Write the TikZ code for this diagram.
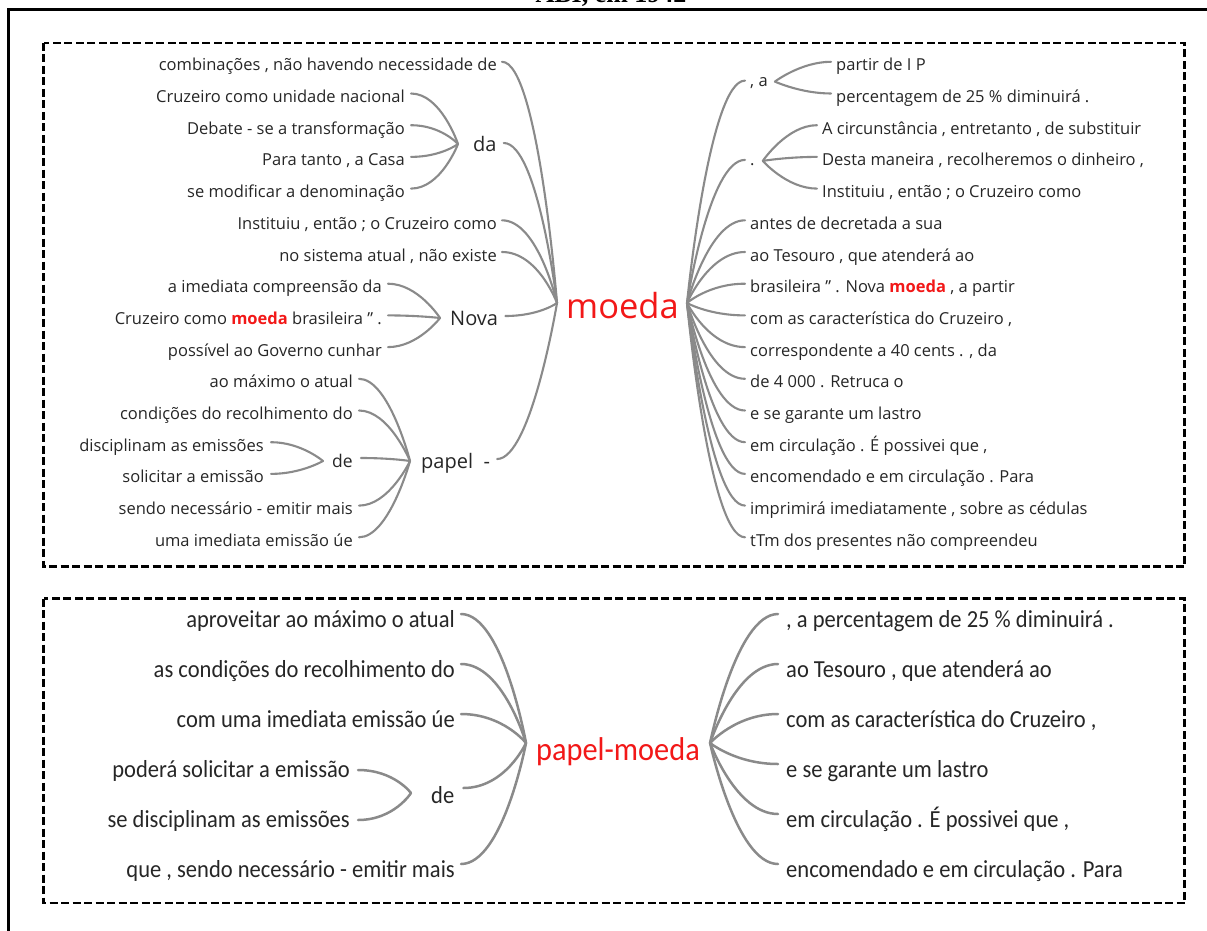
\documentclass[tikz,border=0pt]{standalone}
\usepackage{fontspec}
\setmainfont{Open Sans}
\newfontfamily\calib[FakeStretch=0.92]{Carlito}
\newfontfamily\titlefont{Liberation Serif}
\definecolor{txt}{HTML}{262626}
\definecolor{brc}{HTML}{8A8A8A}
\definecolor{hl}{HTML}{F21818}
% left branch: from text end (#2) to hub (#3); right branch: from hub (#2) to text start (#3)
\newcommand\lcv[4]{\draw[#1] (#2) .. controls +(#4,0pt) and +(0pt,0pt) .. (#3);}
\newcommand\rcv[4]{\draw[#1] (#2) .. controls +(0pt,0pt) and +(-#4,0pt) .. (#3);}
\begin{document}
\begin{tikzpicture}[x=1pt,y=-1pt,
  tl/.style={anchor=base east, inner sep=0pt, text=txt, font=\fontsize{16.5}{16.5}\selectfont},
  tr/.style={anchor=base west, inner sep=0pt, text=txt, font=\fontsize{16.5}{16.5}\selectfont},
  hubw/.style={anchor=base west, inner sep=0pt, text=txt, font=\fontsize{20}{20}\selectfont},
  hubs/.style={anchor=base west, inner sep=0pt, text=txt, font=\fontsize{17.5}{17.5}\selectfont},
  center/.style={anchor=base west, inner sep=0pt, text=hl, font=\fontsize{34.5}{34.5}\selectfont},
  bl/.style={anchor=base east, inner sep=0pt, text=txt, font=\calib\fontsize{24.5}{24.5}\selectfont},
  brr/.style={anchor=base west, inner sep=0pt, text=txt, font=\calib\fontsize{24.5}{24.5}\selectfont},
  bcenter/.style={anchor=base west, inner sep=0pt, text=hl, font=\calib\fontsize{33}{33}\selectfont},
  brt/.style={draw=brc, line width=2.1pt, line cap=round},
  brb/.style={draw=brc, line width=2.5pt, line cap=round},
  panel/.style={draw=black, line width=2.4pt, dash pattern=on 8pt off 3.5pt},
  frame/.style={draw=black, line width=3pt}
]
\useasboundingbox (0,0) rectangle (1207,931);
% title (cut off at the top, as in the source) and outer frame
\node[anchor=base, inner sep=0pt, font=\titlefont\bfseries\fontsize{26}{26}\selectfont] (title) at (611,3) {ABI, em 1942};
\draw[frame] (8.5,931) -- (8.5,9.5) -- (1207,9.5);
% panels
\draw[panel] (43.5,43) rectangle (1184.5,566.5);
\draw[panel] (43.5,598.5) rectangle (1184.5,903);

% ---------------- top panel ----------------
\node[center] (moeda) at (566,318) {moeda};
\coordinate (mL) at ([xshift=-9pt,yshift=15pt]moeda.base west);
\coordinate (mR) at ([xshift=8pt,yshift=15pt]moeda.base east);

% left side
\node[tl] (l1) at (497,70.8) {combinações , não havendo necessidade de};
\node[tl] (l2) at (405,102.5) {Cruzeiro como unidade nacional};
\node[tl] (l3) at (405,134.2) {Debate - se a transformação};
\node[tl] (l4) at (405,165.9) {Para tanto , a Casa};
\node[tl] (l5) at (405,197.6) {se modificar a denominação};
\node[hubw] (da) at (473,152) {da};
\node[tl] (l6) at (497,229.3) {Instituiu , então ; o Cruzeiro como};
\node[tl] (l7) at (497,261.0) {no sistema atual , não existe};
\node[tl] (l8) at (382,292.7) {a imediata compreensão da};
\node[tl] (l9) at (382,324.4) {Cruzeiro como \textbf{\textcolor{hl}{moeda}} brasileira ” .};
\node[tl] (l10) at (382,356.1) {possível ao Governo cunhar};
\node[hubw] (nova) at (450,325) {Nova};
\node[tl] (l11) at (353,387.8) {ao máximo o atual};
\node[tl] (l12) at (353,419.5) {condições do recolhimento do};
\node[tl] (l13) at (264,451.2) {disciplinam as emissões};
\node[tl] (l14) at (264,482.9) {solicitar a emissão};
\node[hubs] (de) at (332,467) {de};
\node[tl] (l15) at (353,514.6) {sendo necessário - emitir mais};
\node[tl] (l16) at (353,546.3) {uma imediata emissão úe};
\node[hubw] (papel) at (421,468) {papel\ \ -};

\coordinate (daH) at ([xshift=-15pt,yshift=8pt]da.base west);
\coordinate (novaH) at ([xshift=-10pt,yshift=7pt]nova.base west);
\coordinate (deH) at ([xshift=-9pt,yshift=6pt]de.base west);
\coordinate (papelH) at ([xshift=-11pt,yshift=7pt]papel.base west);

\foreach \n in {l1,l6,l7}{\lcv{brt}{[xshift=5pt,yshift=9pt]\n.base east}{mL}{36pt}}
\foreach \n in {da,nova,papel}{\lcv{brt}{[xshift=7pt,yshift=9pt]\n.base east}{mL}{34pt}}
\foreach \n in {l2,l3,l4,l5}{\lcv{brt}{[xshift=6pt,yshift=9pt]\n.base east}{daH}{30pt}}
\foreach \n in {l8,l9,l10}{\lcv{brt}{[xshift=6pt,yshift=9pt]\n.base east}{novaH}{30pt}}
\foreach \n in {l11,l12,l15,l16}{\lcv{brt}{[xshift=6pt,yshift=9pt]\n.base east}{papelH}{30pt}}
\lcv{brt}{[xshift=8pt,yshift=9pt]de.base east}{papelH}{30pt}
\foreach \n in {l13,l14}{\lcv{brt}{[xshift=7pt,yshift=9pt]\n.base east}{deH}{30pt}}

% right side
\node[tr] (ca) at (750,86.6) {, a};
\node[tr] (r1) at (836,70.8) {partir de I P};
\node[tr] (r2) at (836,102.5) {percentagem de 25 \% diminuirá .};
\node[tr] (dot) at (750,165.9) {.};
\node[tr] (r3) at (822,134.2) {A circunstância , entretanto , de substituir};
\node[tr] (r4) at (822,165.9) {Desta maneira , recolheremos o dinheiro ,};
\node[tr] (r5) at (822,197.6) {Instituiu , então ; o Cruzeiro como};
\node[tr] (r6) at (750,229.3) {antes de decretada a sua};
\node[tr] (r7) at (750,261.0) {ao Tesouro , que atenderá ao};
\node[tr] (r8) at (750,292.7) {brasileira ” . Nova \textbf{\textcolor{hl}{moeda}} , a partir};
\node[tr] (r9) at (750,324.4) {com as característica do Cruzeiro ,};
\node[tr] (r10) at (750,356.1) {correspondente a 40 cents . , da};
\node[tr] (r11) at (750,387.8) {de 4 000 . Retruca o};
\node[tr] (r12) at (750,419.5) {e se garante um lastro};
\node[tr] (r13) at (750,451.2) {em circulação . É possivei que ,};
\node[tr] (r14) at (750,482.9) {encomendado e em circulação . Para};
\node[tr] (r15) at (750,514.6) {imprimirá imediatamente , sobre as cédulas};
\node[tr] (r16) at (750,546.3) {tTm dos presentes não compreendeu};

\coordinate (caH) at ([xshift=7pt,yshift=5pt]ca.base east);
\coordinate (dotH) at ([xshift=8pt,yshift=5pt]dot.base east);

\rcv{brt}{mR}{[xshift=-5pt,yshift=6pt]ca.base west}{36pt}
\rcv{brt}{mR}{[xshift=-5pt,yshift=6pt]dot.base west}{36pt}
\foreach \n in {r6,r7,r8,r9,r10,r11,r12,r13,r14,r15,r16}{\rcv{brt}{mR}{[xshift=-5pt,yshift=9pt]\n.base west}{36pt}}
\foreach \n in {r1,r2}{\rcv{brt}{caH}{[xshift=-5pt,yshift=9pt]\n.base west}{30pt}}
\foreach \n in {r3,r4,r5}{\rcv{brt}{dotH}{[xshift=-5pt,yshift=9pt]\n.base west}{30pt}}

% ---------------- bottom panel ----------------
\node[bcenter] (pm) at (536,760) {papel-moeda};
\coordinate (pmL) at ([xshift=-10pt,yshift=17pt]pm.base west);
\coordinate (pmR) at ([xshift=10pt,yshift=17pt]pm.base east);

\node[bl] (p1) at (455,627) {aproveitar ao máximo o atual};
\node[bl] (p2) at (455,677) {as condições do recolhimento do};
\node[bl] (p3) at (455,727) {com uma imediata emissão úe};
\node[bl] (p4) at (350,777) {poderá solicitar a emissão};
\node[bl] (p5) at (350,827) {se disciplinam as emissões};
\node[brr] (pde) at (431,803) {de};
\node[bl] (p6) at (455,877) {que , sendo necessário - emitir mais};
\coordinate (pdeH) at ([xshift=-20pt,yshift=10pt]pde.base west);

\foreach \n in {p1,p2,p3,p6}{\lcv{brb}{[xshift=6pt,yshift=13pt]\n.base east}{pmL}{42pt}}
\lcv{brb}{[xshift=9pt,yshift=15pt]pde.base east}{pmL}{42pt}
\foreach \n in {p4,p5}{\lcv{brb}{[xshift=8pt,yshift=7pt]\n.base east}{pdeH}{36pt}}

\node[brr] (q1) at (786,627) {, a percentagem de 25 \% diminuirá .};
\node[brr] (q2) at (786,677) {ao Tesouro , que atenderá ao};
\node[brr] (q3) at (786,727) {com as característica do Cruzeiro ,};
\node[brr] (q4) at (786,777) {e se garante um lastro};
\node[brr] (q5) at (786,827) {em circulação . É possivei que ,};
\node[brr] (q6) at (786,877) {encomendado e em circulação . Para};

\foreach \n in {q1,q2,q3,q4,q5,q6}{\rcv{brb}{pmR}{[xshift=-8pt,yshift=13pt]\n.base west}{42pt}}
\end{tikzpicture}
\end{document}
